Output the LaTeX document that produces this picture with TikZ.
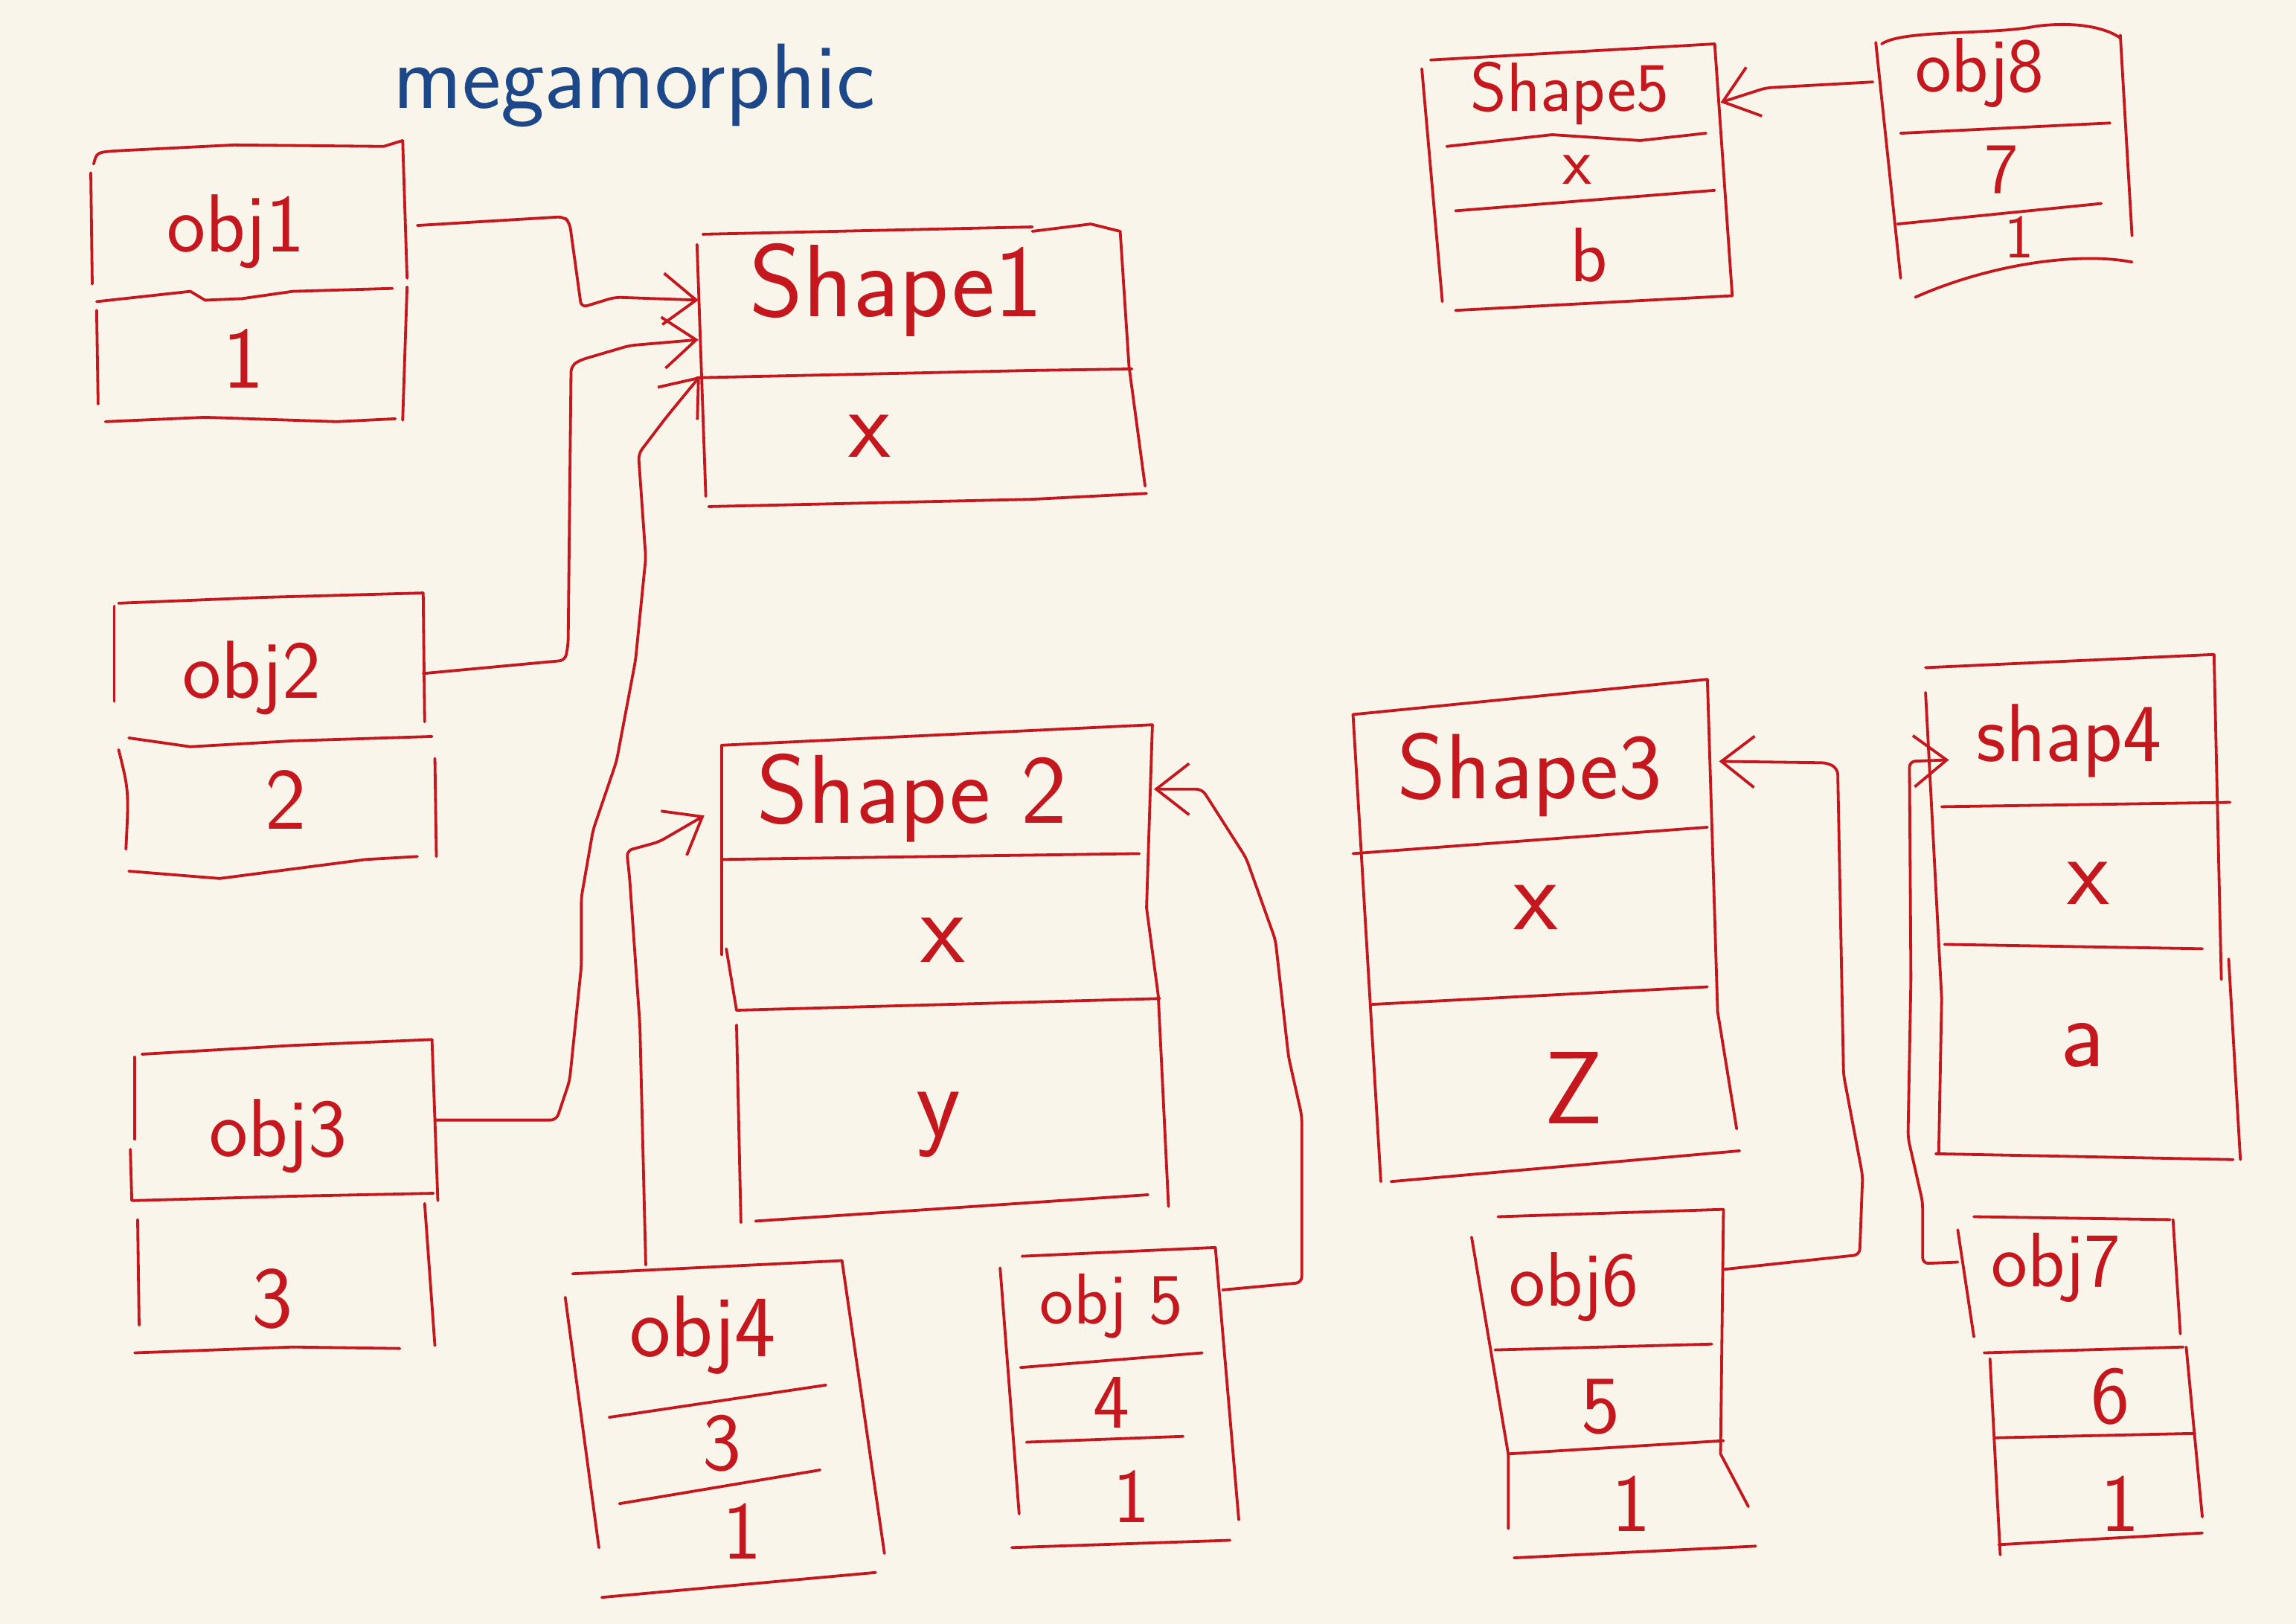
\documentclass[tikz,border=0pt]{standalone}
\usepackage{fontspec}
\usetikzlibrary{arrows.meta}
\definecolor{inkred}{RGB}{196,24,30}
\definecolor{inkblue}{RGB}{28,72,138}
\definecolor{paper}{RGB}{249,245,235}
\tikzset{
  stroke/.style={draw=inkred, line width=1.1pt, line cap=round, line join=round},
  conn/.style={stroke, rounded corners=0.8mm, -{Straight Barb[length=4.5mm,width=7mm]}},
  lbl/.style={text=inkred, inner sep=0pt, font=\sffamily\fontsize{#1}{#1}\selectfont},
  lbl/.default=32
}
\begin{document}
\begin{tikzpicture}[x=0.2mm, y=-0.2mm]
\useasboundingbox (0,0) rectangle (1568,1109);
\fill[paper] (0,0) rectangle (1568,1109);

% title
\node[text=inkblue, inner sep=0pt, anchor=base, font=\sffamily\fontsize{36}{36}\selectfont\addfontfeatures{LetterSpace=6}] (title) at (433,74) {megamorphic};

% ---------- obj1 ----------
\draw[stroke] (64,112) .. controls (66,104) .. (80,103) -- (160,99) -- (262,100) -- (275,96);
\draw[stroke] (62,118) -- (63,194);
\draw[stroke] (66,212) -- (67,276);
\draw[stroke] (275,96) -- (278,190);
\draw[stroke] (278,196) -- (275,287);
\draw[stroke] (66,206) -- (130,199) -- (140,205) -- (165,204) -- (200,199) -- (268,197);
\draw[stroke] (72,288) -- (140,285) -- (230,288) -- (270,286);
\node[lbl=32] (o1t) at (161,158) {obj1};
\node[lbl=34] (o1v) at (166,245) {1};
\coordinate (o1out) at (285,154);

% ---------- obj2 ----------
\draw[stroke] (81,412) -- (180,408) -- (289,405);
\draw[stroke] (78,414) -- (78,479);
\draw[stroke] (289,405) -- (290,493);
\draw[stroke] (88,504) -- (130,510) -- (200,506) -- (295,503);
\draw[stroke] (81,512) .. controls (88,540) .. (86,580);
\draw[stroke] (297,518) -- (298,585);
\draw[stroke] (88,595) -- (150,600) -- (250,587) -- (285,585);
\node[lbl=32] (o2t) at (172,463) {obj2};
\node[lbl=34] (o2v) at (195,546) {2};
\coordinate (o2out) at (289,460);

% ---------- obj3 ----------
\draw[stroke] (97,720) -- (200,714) -- (295,710);
\draw[stroke] (92,722) -- (92,778);
\draw[stroke] (89,785) -- (90,820);
\draw[stroke] (295,710) -- (299,820);
\draw[stroke] (91,820) -- (200,817) -- (296,815);
\draw[stroke] (94,833) -- (95,905);
\draw[stroke] (290,822) -- (297,919);
\draw[stroke] (92,924) -- (200,920) -- (273,921);
\node[lbl=32] (o3t) at (190,776) {obj3};
\node[lbl=34] (o3v) at (186,887) {3};
\coordinate (o3out) at (297,765);

% ---------- obj4 ----------
\draw[stroke] (391,870) -- (575,861);
\draw[stroke] (386,886) -- (409,1057);
\draw[stroke] (575,861) -- (604,1061);
\draw[stroke] (411,1091) -- (598,1074);
\draw[stroke] (416,968) -- (564,946);
\draw[stroke] (423,1027) -- (560,1004);
\node[lbl=34] (o4t) at (480,912) {obj4};
\node[lbl=32] (o4v1) at (493,986) {3};
\node[lbl=32] (o4v2) at (507,1046) {1};
\coordinate (o4out) at (441,864);

% ---------- obj5 ----------
\draw[stroke] (698,858) -- (830,852);
\draw[stroke] (683,866) -- (696,1034);
\draw[stroke] (830,852) -- (846,1038);
\draw[stroke] (691,1057) -- (840,1052);
\draw[stroke] (697,934) -- (821,924);
\draw[stroke] (701,985) -- (808,981);
\node[lbl=28] (o5t) at (759,892) {obj 5};
\node[lbl=30] (o5v1) at (759,958) {4};
\node[lbl=30] (o5v2) at (773,1022) {1};
\coordinate (o5out) at (835,881);

% ---------- obj6 ----------
\draw[stroke] (1023,831) -- (1177,826);
\draw[stroke] (1005,845) -- (1030,993) -- (1030,1044);
\draw[stroke] (1177,826) -- (1175,993) -- (1194,1029);
\draw[stroke] (1034,1064) -- (1199,1056);
\draw[stroke] (1021,922) -- (1169,918);
\draw[stroke] (1030,993) -- (1177,984);
\node[lbl=30] (o6t) at (1075,879) {obj6};
\node[lbl=32] (o6v1) at (1093,961) {5};
\node[lbl=32] (o6v2) at (1114,1027) {1};
\coordinate (o6out) at (1177,867);

% ---------- obj7 ----------
\draw[stroke] (1348,831) -- (1482,833);
\draw[stroke] (1337,840) -- (1348,913);
\draw[stroke] (1484,833) -- (1489,911);
\draw[stroke] (1355,924) -- (1491,920);
\draw[stroke] (1359,928) -- (1366,1062);
\draw[stroke] (1493,920) -- (1504,1036);
\draw[stroke] (1363,982) -- (1499,979);
\draw[stroke] (1365,1055) -- (1504,1047);
\node[lbl=30] (o7t) at (1404,866) {obj7};
\node[lbl=32] (o7v1) at (1441,954) {6};
\node[lbl=32] (o7v2) at (1448,1027) {1};
\coordinate (o7out) at (1337,862);

% ---------- obj8 ----------
\draw[stroke] (1285,30) .. controls (1300,20) and (1360,24) .. (1390,18) .. controls (1420,14) and (1440,20) .. (1448,26);
\draw[stroke] (1281,29) -- (1298,190);
\draw[stroke] (1448,24) -- (1456,161);
\draw[stroke] (1298,91) -- (1441,84);
\draw[stroke] (1296,153) -- (1435,139);
\draw[stroke] (1308,203) .. controls (1360,180) and (1420,172) .. (1456,179);
\node[lbl=30] (o8t) at (1352,50) {obj8};
\node[lbl=28] (o8v1) at (1367,116) {7};
\node[lbl=24] (o8v2) at (1379,162) {1};
\coordinate (o8out) at (1279,56);

% ---------- Shape1 ----------
\draw[stroke] (480,160) -- (705,155);
\draw[stroke] (705,158) -- (745,153) -- (765,158);
\draw[stroke] (476,167) -- (482,339);
\draw[stroke] (765,158) -- (771,250) -- (782,332);
\draw[stroke] (476,258) -- (705,253) -- (773,252);
\draw[stroke] (484,346) -- (705,341) -- (783,337);
\node[lbl=40] (s1t) at (612,198) {Shape1};
\node[lbl=38] (s1x) at (594,298) {x};
\coordinate (s1in1) at (477,205);
\coordinate (s1in2) at (477,232);
\coordinate (s1in3) at (478,257);

% ---------- Shape2 ----------
\draw[stroke] (493,509) -- (787,495);
\draw[stroke] (493,509) -- (493,652);
\draw[stroke] (496,648) -- (503,690);
\draw[stroke] (503,700) -- (506,835);
\draw[stroke] (787,495) -- (783,620) -- (791,680) -- (798,824);
\draw[stroke] (516,834) -- (784,816);
\draw[stroke] (493,587) -- (778,583);
\draw[stroke] (503,690) -- (792,682);
\node[lbl=38] (s2t) at (623,545) {Shape 2};
\node[lbl=40] (s2x) at (644,642) {x};
\node[lbl=40] (s2y) at (641,768) {y};
\coordinate (s2inL) at (481,557);
\coordinate (s2inR) at (788,539);

% ---------- Shape3 ----------
\draw[stroke] (924,488) -- (1166,464);
\draw[stroke] (924,488) -- (943,807);
\draw[stroke] (1166,464) -- (1173,691) -- (1186,771);
\draw[stroke] (950,807) -- (1188,786);
\draw[stroke] (924,583) -- (1166,565);
\draw[stroke] (937,686) -- (1166,674);
\node[lbl=36] (s3t) at (1045,529) {Shape3};
\node[lbl=40] (s3x) at (1049,620) {x};
\node[lbl=40] (s3z) at (1075,743) {Z};
\coordinate (s3in) at (1174,520);

% ---------- Shap4 ----------
\draw[stroke] (1315,456) -- (1512,447);
\draw[stroke] (1512,447) -- (1517,669);
\draw[stroke] (1522,655) -- (1530,792);
\draw[stroke] (1315,473) -- (1326,682) -- (1324,788);
\draw[stroke] (1322,788) -- (1525,792);
\draw[stroke] (1326,551) -- (1523,548);
\draw[stroke] (1328,645) -- (1504,648);
\node[lbl=32] (s4t) at (1413,506) {shap4};
\node[lbl=38] (s4x) at (1426,603) {x};
\node[lbl=38] (s4a) at (1422,714) {a};
\coordinate (s4in) at (1331,519);

% ---------- Shape5 ----------
\draw[stroke] (977,41) -- (1171,30);
\draw[stroke] (971,47) -- (985,206);
\draw[stroke] (1171,30) -- (1183,202);
\draw[stroke] (994,212) -- (1183,202);
\draw[stroke] (988,100) -- (1060,92) -- (1120,96) -- (1165,91);
\draw[stroke] (994,144) -- (1171,130);
\node[lbl=27] (s5t) at (1072,64) {Shape5};
\node[lbl=26] (s5x) at (1077,116) {x};
\node[lbl=30] (s5b) at (1085,174) {b};
\coordinate (s5in) at (1175,70);

% ---------- connectors ----------
\draw[conn] (o1out) -- (385,148) -- (389,152) -- (397,210) -- (420,203) -- (s1in1);
\draw[conn] (o2out) -- (386,451) -- (388,440) -- (390,250) -- (396,246) -- (430,236) -- (s1in2);
\draw[conn] (o3out) -- (380,765) -- (389,738) -- (397,660) -- (397,613) -- (405,567) -- (421,520) -- (434,451) -- (441,381) -- (436,310) -- (455,285) -- (s1in3);
\draw[conn] (o4out) -- (437,700) -- (430,600) -- (428,581) -- (450,575) -- (s2inL);
\draw[conn] (o5out) -- (889,876) -- (889,762) -- (880,722) -- (871,642) -- (851,586) -- (821,539) -- (s2inR);
\draw[conn] (o6out) -- (1270,857) -- (1272,803) -- (1259,734) -- (1255,525) -- (1248,521) -- (s3in);
\draw[conn] (o7out) -- (1313,863) -- (1313,821) -- (1303,777) -- (1305,669) -- (1304,520) -- (s4in);
\draw[conn] (o8out) -- (1206,60) -- (s5in);
\end{tikzpicture}
\end{document}
